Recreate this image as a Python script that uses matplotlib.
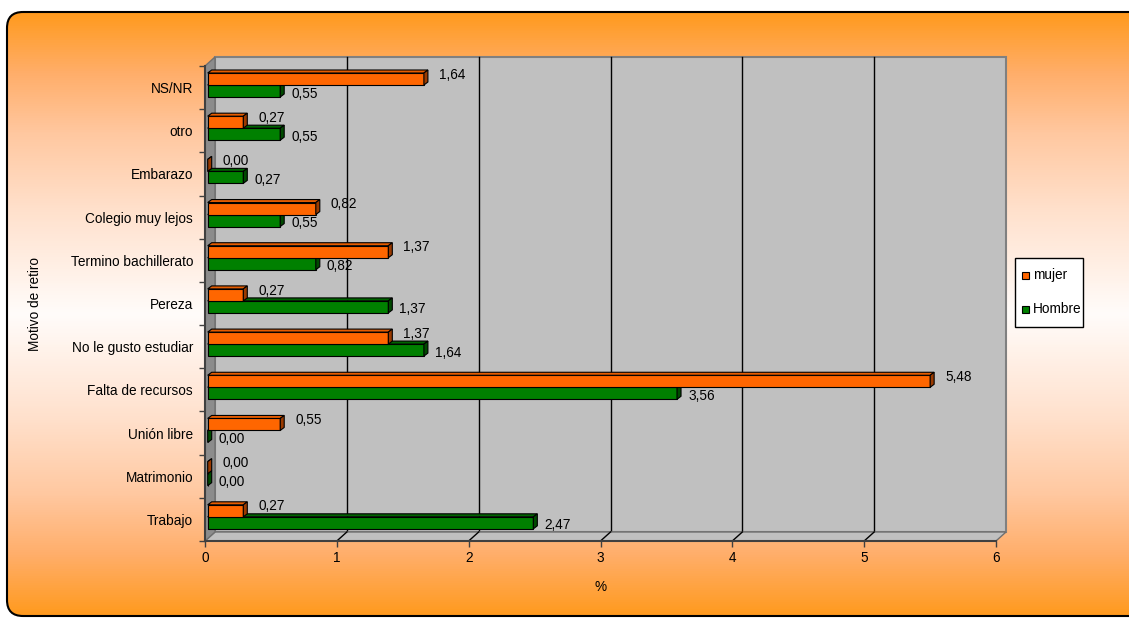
import numpy as np
import matplotlib
matplotlib.use('Agg')
import matplotlib.pyplot as plt
from matplotlib.patches import Rectangle, Polygon, FancyBboxPatch
from matplotlib.colors import LinearSegmentedColormap
from matplotlib.transforms import offset_copy

# Datos (de abajo hacia arriba)
categorias = ['Trabajo', 'Matrimonio', 'Unión libre', 'Falta de recursos',
              'No le gusto estudiar', 'Pereza', 'Termino bachillerato',
              'Colegio muy lejos', 'Embarazo', 'otro', 'NS/NR']
mujer = [0.27, 0.00, 0.55, 5.48, 1.37, 0.27, 1.37, 0.82, 0.00, 0.27, 1.64]
hombre = [2.47, 0.00, 0.00, 3.56, 1.64, 1.37, 0.82, 0.55, 0.27, 0.55, 0.55]
x_ticks = [0, 1, 2, 3, 4, 5, 6]

plt.rcParams['font.family'] = ['Liberation Sans', 'DejaVu Sans']
plt.rcParams['font.size'] = 9.8

W, H = 1129, 619
fig = plt.figure(figsize=(W / 100, H / 100), dpi=100)

# fondo con degradado naranja - blanco - naranja
bg = fig.add_axes([0, 0, 1, 1])
bg.set_xlim(0, W)
bg.set_ylim(H, 0)
bg.axis('off')
stops = [(0.0, (255, 154, 30)), (0.1, (255, 174, 106)), (0.2, (255, 200, 160)),
         (0.33, (255, 225, 205)), (0.5, (255, 252, 250))]
stops = stops + [(1 - p, c) for p, c in stops[::-1][1:]]
cmap = LinearSegmentedColormap.from_list('fondo', [(p, tuple(v / 255 for v in c)) for p, c in stops])
grad = np.linspace(0, 1, 512).reshape(-1, 1)
caja = FancyBboxPatch((7, 12), 1140, 604, boxstyle='round,pad=0,rounding_size=16',
                      fc='none', ec='black', lw=1.5, zorder=2)
bg.add_patch(caja)
img = bg.imshow(grad, cmap=cmap, extent=(7, 1147, 616, 12), aspect='auto', zorder=1)
img.set_clip_path(caja)

# ejes principales (plano frontal)
L, R, T, B = 205, 996, 66, 541
n = len(categorias)
ax = fig.add_axes([L / W, 1 - B / H, (R - L) / W, (B - T) / H])
ax.set_xlim(0, 6)
ax.set_ylim(-0.5, n - 0.5)
ax.patch.set_visible(False)
ppx = (R - L) / 6
ppy = (B - T) / n
dX, dY = 10 / ppx, 9 / ppy          # profundidad paredes
bx = 2.7 / ppx                      # inicio de barras
ddx, ddy = 4 / ppx, 3 / ppy         # profundidad barras

fondo_t = offset_copy(ax.transData, fig=fig, x=10, y=9, units='dots')
ax.add_patch(Rectangle((0, -0.5), 6, n, transform=fondo_t, fc='#c0c0c0', ec='#808080',
                       lw=1.5, clip_on=False, zorder=0))
for k in x_ticks[1:-1]:
    ax.plot([k, k], [-0.5, n - 0.5], transform=fondo_t, color='black', lw=1,
            clip_on=False, zorder=0.5)

# piso
ax.add_patch(Polygon([(0, -0.5), (6, -0.5), (6 + dX, -0.5 + dY), (dX, -0.5 + dY)],
                     fc='#c0c0c0', ec='#707070', lw=1, clip_on=False, zorder=1))
for k in x_ticks[1:-1]:
    ax.plot([k, k + dX], [-0.5, -0.5 + dY], color='black', lw=1, clip_on=False, zorder=1.2)
# pared izquierda
ax.add_patch(Polygon([(0, -0.5), (dX, -0.5 + dY), (dX, n - 0.5 + dY), (0, n - 0.5)],
                     fc='#8c8c8c', ec='#707070', lw=1, clip_on=False, zorder=1))

y = np.arange(n)
h = 0.278
series = [(hombre, -0.079, '#008000', '#004a00', '#006400', 11, -2.5, 3),
          (mujer, 0.199, '#ff6600', '#9a3a00', '#e65c00', 15, 4.4, 4)]
for vals, off, col, lado, tapa, tx, ty, z in series:
    vals = np.array(vals)
    ax.barh(y + off, vals, height=h, left=bx, color=col, ec='black', lw=0.8, zorder=z)
    for yi, v in zip(y + off, vals):
        x0, x1 = bx, bx + v
        yb, yt = yi - h / 2, yi + h / 2
        ax.add_patch(Polygon([(x0, yt), (x1, yt), (x1 + ddx, yt + ddy), (x0 + ddx, yt + ddy)],
                             fc=tapa, ec='black', lw=0.8, zorder=z))
        ax.add_patch(Polygon([(x1, yb), (x1 + ddx, yb + ddy), (x1 + ddx, yt + ddy), (x1, yt)],
                             fc=lado, ec='black', lw=0.8, zorder=z))
        ax.annotate(f'{v:.2f}'.replace('.', ','), xy=(x1, yi), xytext=(tx, ty),
                    textcoords='offset pixels', ha='left', va='center', zorder=6)

# ejes y marcas
for s in ['top', 'right']:
    ax.spines[s].set_visible(False)
for s in ['left', 'bottom']:
    ax.spines[s].set_color('#404040')
    ax.spines[s].set_linewidth(1.5)
    ax.spines[s].set_zorder(2)
ax.set_xticks(x_ticks)
ax.set_xticklabels([str(t) for t in x_ticks])
ax.tick_params(axis='x', direction='out', length=4.3, width=1, color='#404040', pad=3)
ax.set_yticks(np.arange(-0.5, n, 1))
ax.set_yticklabels([])
ax.tick_params(axis='y', which='major', direction='out', length=4.3, width=1, color='#404040')
ax.set_yticks(y, minor=True)
ax.set_yticklabels(categorias, minor=True)
ax.tick_params(axis='y', which='minor', length=0, pad=8.6)

fig.text(601 / W, 1 - 587 / H, '%', ha='center', va='center')
fig.text(35 / W, 1 - 304 / H, 'Motivo de retiro', rotation=90, ha='center', va='center')

# leyenda (caja blanca con cuadritos)
bg.add_patch(Rectangle((1015, 258), 68, 69, fc='white', ec='black', lw=1, zorder=3))
for i, (nombre, col) in enumerate([('mujer', '#ff6600'), ('Hombre', '#008000')]):
    yc = 275 + 34 * i
    bg.add_patch(Rectangle((1022, yc - 3.5), 7, 7, fc=col, ec='black', lw=0.8, zorder=4))
    bg.text(1033, yc, nombre, ha='left', va='center', zorder=4)

fig.savefig('out.png', dpi=100)
